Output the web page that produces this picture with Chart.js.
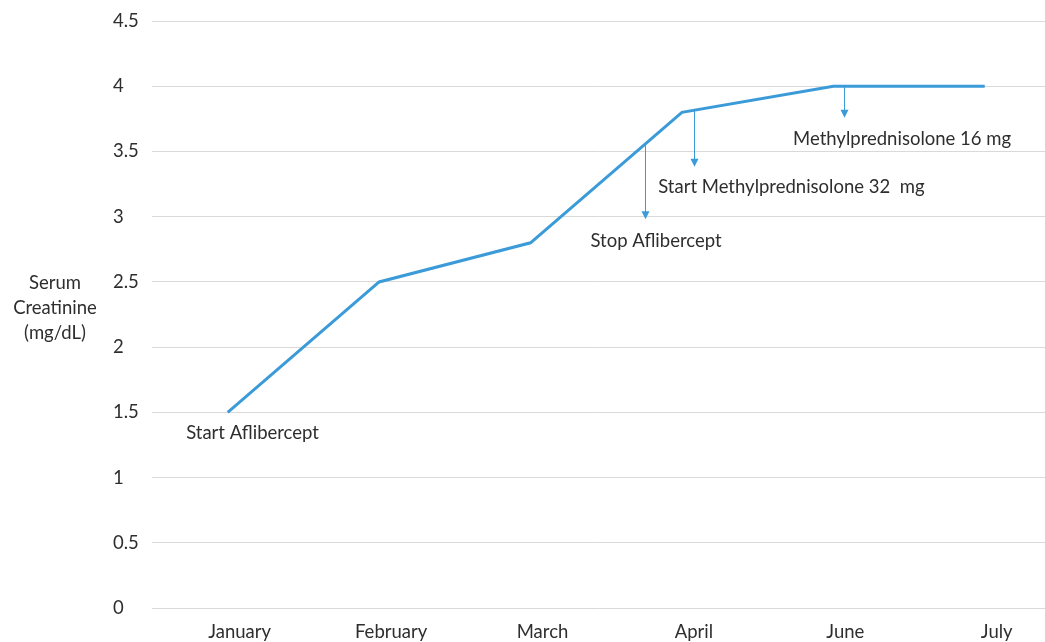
<!DOCTYPE html>
<html>
<head>
<meta charset="utf-8">
<script src="https://cdn.jsdelivr.net/npm/chart.js@4.4.0/dist/chart.umd.min.js"></script>
<style>
  html, body { margin: 0; padding: 0; background: #fff; }
  #wrap { width: 1045px; height: 642px; position: relative; }
</style>
</head>
<body>
<div id="wrap"><canvas id="creatinineChart"></canvas></div>
<script>
// data
const months = ['January', 'February', 'March', 'April', 'June', 'July'];
const creatinine = [1.5, 2.5, 2.8, 3.8, 4.0, 4.0];
const yTicks = [0, 0.5, 1, 1.5, 2, 2.5, 3, 3.5, 4, 4.5];
const yTitleLines = ['Serum', 'Creatinine', '(mg/dL)'];
const noteTexts = ['Start Aflibercept', 'Stop Aflibercept', 'Start Methylprednisolone 32  mg', 'Methylprednisolone 16 mg'];

const lineBlue = '#3b9bd8';
const textGrey = '#2e2e2e';
const fontFamily = 'Lato, "Liberation Sans", sans-serif';
const fontSize = 18.5;

// where each note sits (data units), arrow from -> to
const notePlaces = [
    { lx: 0.164, ly: 1.345 },
    { lx: 2.829, ly: 2.81, ax: 2.753, from: 3.553, to: 2.98 },
    { lx: 3.723, ly: 3.224, ax: 3.08, from: 3.816, to: 3.384 },
    { lx: 4.454, ly: 3.598, ax: 4.07, from: 4.0, to: 3.758 }
];

const notesPlugin = {
    id: 'notes',
    afterDatasetsDraw(chart) {
        const ctx = chart.ctx;
        const xs = chart.scales.x, ys = chart.scales.y;
        ctx.save();
        ctx.font = fontSize + 'px ' + fontFamily;
        ctx.textAlign = 'center';
        ctx.textBaseline = 'middle';
        notePlaces.forEach((p, i) => {
            ctx.fillStyle = textGrey;
            ctx.fillText(noteTexts[i], xs.getPixelForValue(p.lx), ys.getPixelForValue(p.ly));
            if (p.ax === undefined) return;
            const x = Math.round(xs.getPixelForValue(p.ax)) + 0.5;
            const y0 = ys.getPixelForValue(p.from);
            const y1 = ys.getPixelForValue(p.to);
            ctx.strokeStyle = lineBlue;
            ctx.lineWidth = 1;
            ctx.beginPath();
            ctx.moveTo(x, y0);
            ctx.lineTo(x, y1 - 5);
            ctx.stroke();
            ctx.fillStyle = lineBlue;
            ctx.beginPath();
            ctx.moveTo(x - 4, y1 - 8);
            ctx.lineTo(x + 4, y1 - 8);
            ctx.lineTo(x, y1);
            ctx.closePath();
            ctx.fill();
        });
        // y title, horizontal on three lines
        ctx.fillStyle = textGrey;
        const midY = ys.getPixelForValue(2.3);
        yTitleLines.forEach((t, i) => {
            ctx.fillText(t, 55, midY + (i - 1) * 25);
        });
        ctx.restore();
    }
};

const ctx = document.getElementById('creatinineChart').getContext('2d');
new Chart(ctx, {
    type: 'line',
    data: {
        datasets: [{
            data: creatinine.map((v, i) => ({ x: i, y: v })),
            borderColor: lineBlue,
            borderWidth: 3,
            pointRadius: 0,
            fill: false,
            tension: 0
        }]
    },
    options: {
        responsive: true,
        maintainAspectRatio: false,
        animation: false,
        layout: { padding: { left: 113, right: 0, top: 10, bottom: 0 } },
        scales: {
            x: {
                type: 'linear',
                min: -0.5,
                max: 5.398,
                grid: { display: false, drawTicks: false },
                border: { display: false },
                afterBuildTicks: (scale) => {
                    scale.ticks = months.map((m, i) => ({ value: i }));
                },
                afterFit: (scale) => { scale.height = 34; },
                ticks: {
                    callback: (v) => months[v],
                    color: textGrey,
                    font: { family: fontFamily, size: fontSize },
                    padding: 13,
                    labelOffset: 12,
                    maxRotation: 0,
                    autoSkip: false
                }
            },
            y: {
                min: 0,
                max: 4.5,
                afterBuildTicks: (scale) => {
                    scale.ticks = yTicks.map(v => ({ value: v }));
                },
                afterFit: (scale) => { scale.width = 39; },
                grid: { color: '#d9d9d9', lineWidth: 1, drawTicks: false },
                border: { display: false },
                ticks: {
                    callback: (v) => String(v),
                    color: textGrey,
                    font: { family: fontFamily, size: fontSize },
                    crossAlign: 'far',
                    padding: 10
                }
            }
        },
        plugins: {
            legend: { display: false },
            tooltip: { enabled: false }
        }
    },
    plugins: [notesPlugin]
});
</script>
</body>
</html>
